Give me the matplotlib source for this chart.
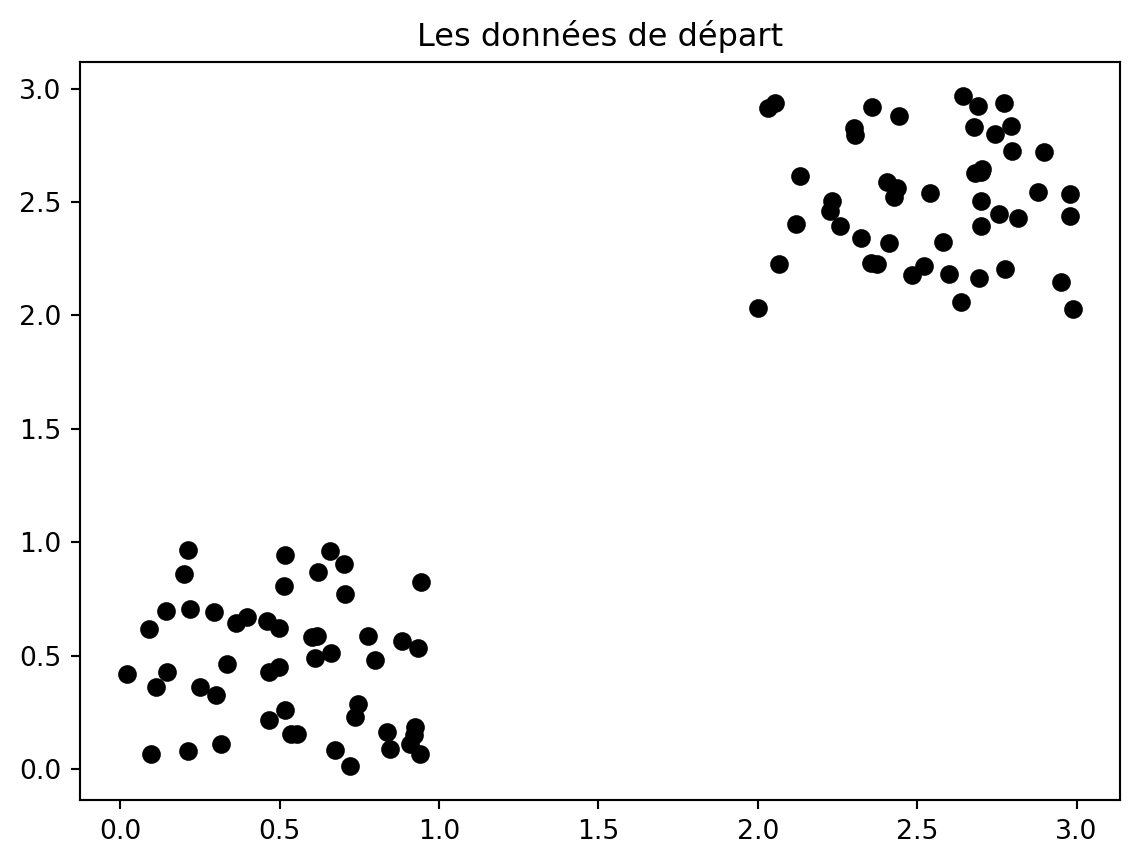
import matplotlib
matplotlib.use('Agg')
import matplotlib.pyplot as plt
import numpy as np

# lower-left cluster
x_low = [0.022, 0.097, 0.091, 0.113, 0.144, 0.147, 0.200, 0.213, 0.213, 0.219,
         0.251, 0.294, 0.301, 0.316, 0.335, 0.363, 0.398, 0.460, 0.467, 0.467,
         0.498, 0.498, 0.514, 0.517, 0.517, 0.536, 0.554, 0.601, 0.617, 0.611,
         0.620, 0.658, 0.661, 0.673, 0.701, 0.705, 0.720, 0.736, 0.745, 0.777,
         0.799, 0.836, 0.846, 0.883, 0.908, 0.921, 0.924, 0.933, 0.939, 0.943]
y_low = [0.422, 0.070, 0.620, 0.361, 0.699, 0.431, 0.862, 0.968, 0.079, 0.708,
         0.365, 0.695, 0.330, 0.110, 0.466, 0.647, 0.673, 0.655, 0.216, 0.427,
         0.625, 0.453, 0.809, 0.946, 0.260, 0.158, 0.158, 0.585, 0.589, 0.493,
         0.871, 0.963, 0.515, 0.084, 0.906, 0.774, 0.013, 0.229, 0.290, 0.589,
         0.484, 0.167, 0.088, 0.567, 0.114, 0.150, 0.189, 0.537, 0.066, 0.827]

# upper-right cluster
x_high = [2.001, 2.032, 2.054, 2.067, 2.120, 2.133, 2.227, 2.233, 2.258, 2.302,
          2.305, 2.324, 2.355, 2.358, 2.374, 2.405, 2.411, 2.427, 2.436, 2.443,
          2.483, 2.521, 2.540, 2.580, 2.599, 2.637, 2.643, 2.677, 2.681, 2.690,
          2.693, 2.699, 2.699, 2.699, 2.703, 2.743, 2.756, 2.771, 2.775, 2.793,
          2.796, 2.815, 2.878, 2.897, 2.950, 2.978, 2.981, 2.988]
y_high = [2.032, 2.912, 2.938, 2.226, 2.402, 2.613, 2.459, 2.503, 2.393, 2.824,
          2.793, 2.340, 2.230, 2.917, 2.226, 2.587, 2.318, 2.521, 2.560, 2.881,
          2.177, 2.217, 2.538, 2.323, 2.182, 2.059, 2.969, 2.829, 2.626, 2.921,
          2.164, 2.503, 2.393, 2.631, 2.644, 2.798, 2.446, 2.938, 2.204, 2.833,
          2.723, 2.428, 2.543, 2.719, 2.147, 2.437, 2.534, 2.028]

x = np.array(x_low + x_high)
y = np.array(y_low + y_high)

fig = plt.figure(figsize=(1141 / 192, 864 / 192), dpi=192)
ax = fig.add_subplot(111)
ax.scatter(x, y, color='k')
ax.set_title('Les données de départ')

fig.subplots_adjust(left=80 / 1141, right=1120 / 1141, top=1 - 62 / 864, bottom=1 - 800 / 864)
fig.savefig('out.png', dpi=192)
